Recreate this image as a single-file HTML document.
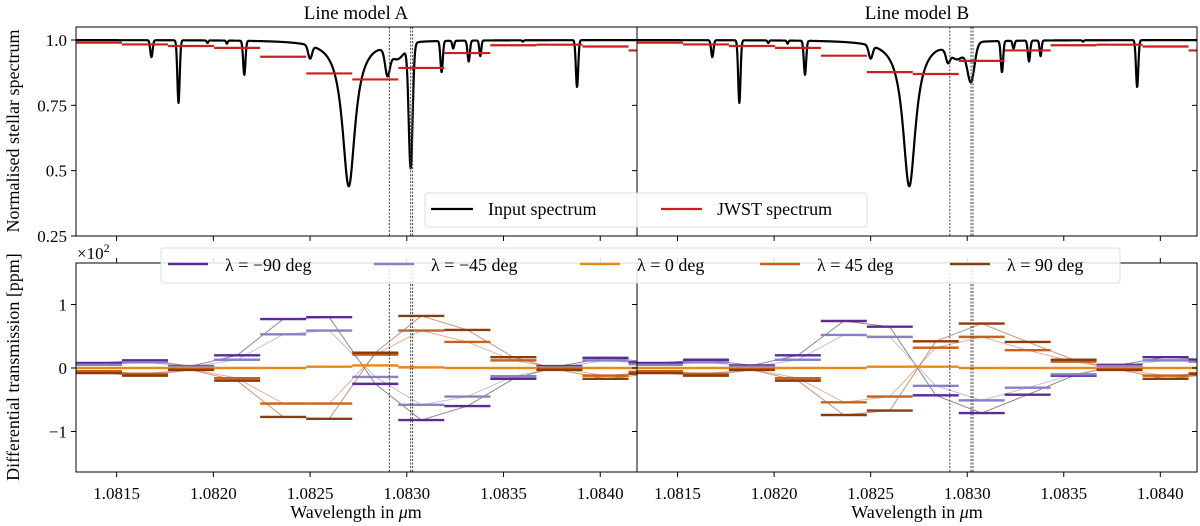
<!DOCTYPE html>
<html><head><meta charset="utf-8"><style>
html,body{margin:0;padding:0;background:#fff;width:1200px;height:526px;overflow:hidden}
svg, svg text{font-family:"Liberation Serif","DejaVu Serif",serif;fill:#000}
</style></head><body>
<svg id="chart" width="1200" height="526" viewBox="0 0 1200 526" xmlns="http://www.w3.org/2000/svg" font-family="Liberation Serif, serif">
<defs>
<clipPath id="cT0"><rect x="76" y="27" width="561" height="209"/></clipPath>
<clipPath id="cT1"><rect x="637" y="27" width="560" height="209"/></clipPath>
<clipPath id="cB0"><rect x="76" y="263" width="561" height="209"/></clipPath>
<clipPath id="cB1"><rect x="637" y="263" width="560" height="209"/></clipPath>
</defs>
<text x="356" y="19" font-size="19" text-anchor="middle">Line model A</text>
<text x="917" y="19" font-size="19" text-anchor="middle">Line model B</text>
<text transform="translate(19,131) rotate(-90)" font-size="18" text-anchor="middle">Normalised stellar spectrum</text>
<text transform="translate(19,367) rotate(-90)" font-size="18" text-anchor="middle">Differential transmission [ppm]</text>
<text x="77" y="259" font-size="17">×10<tspan font-size="12" dy="-7">2</tspan></text>
<text x="356" y="518" font-size="18" text-anchor="middle">Wavelength in <tspan font-style="italic">μ</tspan>m</text>
<text x="917" y="518" font-size="18" text-anchor="middle">Wavelength in <tspan font-style="italic">μ</tspan>m</text>
<g id="g"></g>
</svg>
<script>
const binStart = 1.08129, binWidth = 0.000238, nBins = 13;
const jwstA = [0.99,0.983,0.977,0.97,0.936,0.872,0.849,0.893,0.95,0.98,0.982,0.975,0.96];
const jwstB = [0.99,0.983,0.977,0.97,0.94,0.877,0.87,0.92,0.96,0.98,0.982,0.975,0.96];
const lineCenters = [1.08168,1.08182,1.08197,1.08207,1.08216,1.08250,1.08270,1.08290,1.08302,1.08295,1.08318,1.08324,1.08332,1.08338,1.08360,1.08388];
const lineDepthsA = [0.065,0.24,0.01,0.012,0.13,0.05,0.56,0.09,0.47,0.06,0.12,0.03,0.08,0.06,0.005,0.18];
const lineDepthsB = [0.065,0.24,0.01,0.012,0.13,0.05,0.56,0.04,0.14,0.06,0.12,0.03,0.08,0.06,0.005,0.18];
const lineWidthsA = [0.000006,0.000006,0.000004,0.000004,0.000006,0.00001,0.00004,0.000012,0.00001,0.00004,0.000006,0.000005,0.000006,0.000005,0.000004,0.000006];
const lineWidthsB = [0.000006,0.000006,0.000004,0.000004,0.000006,0.00001,0.00004,0.000010,0.000018,0.00004,0.000006,0.000005,0.000006,0.000005,0.000004,0.000006];
const lineLorentz = [0,0,0,0,0,0,1,0,0,0,0,0,0,0,0,0];
const seriesLabels = ["λ = −90 deg","λ = −45 deg","λ = 0 deg","λ = 45 deg","λ = 90 deg"];
const seriesColors = ["#5a2a96","#8a80c6","#e8891c","#c8621a","#8a3c0e"];
const diffA_m90 = [0.08,0.12,0.03,0.2,0.77,0.80,-0.25,-0.82,-0.6,-0.17,0.03,0.16,0.09];
const diffA_m45 = [0.05,0.09,0.02,0.13,0.53,0.59,-0.14,-0.58,-0.45,-0.13,0.01,0.12,0.06];
const diffA_0 = [0,0,0,0,0,0.02,0.04,0.01,0,0,0,0,0];
const diffA_45 = [-0.05,-0.09,-0.02,-0.16,-0.56,-0.56,0.21,0.59,0.41,0.12,-0.01,-0.12,-0.06];
const diffA_90 = [-0.08,-0.12,-0.03,-0.2,-0.77,-0.8,0.24,0.82,0.6,0.17,-0.03,-0.17,-0.09];
const diffB_m90 = [0.08,0.13,0.04,0.2,0.74,0.65,-0.43,-0.71,-0.42,-0.12,0.05,0.17,0.13];
const diffB_m45 = [0.05,0.09,0.02,0.13,0.52,0.49,-0.28,-0.51,-0.31,-0.1,0.03,0.12,0.1];
const diffB_0 = [0,0,0,0,0,0.02,0.02,0,0,0,0,0,0];
const diffB_45 = [-0.05,-0.09,-0.02,-0.16,-0.54,-0.45,0.32,0.49,0.28,0.1,-0.02,-0.12,-0.08];
const diffB_90 = [-0.08,-0.12,-0.03,-0.2,-0.74,-0.67,0.42,0.7,0.41,0.13,-0.03,-0.17,-0.1];
const xTicks = [1.0815,1.0820,1.0825,1.0830,1.0835,1.0840];
const xTickLabels = ["1.0815","1.0820","1.0825","1.0830","1.0835","1.0840"];
const yTopTicks = [1.0,0.75,0.5,0.25];
const yTopLabels = ["1.0","0.75","0.5","0.25"];
const yBotTicks = [1,0,-1];
const yBotLabels = ["1","0","−1"];
const markerLines = [1.08291,1.08302,1.08303];

const NS="http://www.w3.org/2000/svg", G=document.getElementById('g');
const FONT='Liberation Serif, serif';
const xMin=1.08129, xMax=1.08419;
const panels=[{x0:76,x1:637},{x0:637,x1:1197}];
function xs(v,p){return panels[p].x0+(v-xMin)/(xMax-xMin)*(panels[p].x1-panels[p].x0);}
function yT(v){return 40+(1-v)*261.3;}
function yB(v){return 368-v*63.5;}
function mk(tag,attrs,parent){const e=document.createElementNS(NS,tag);for(const k in attrs)e.setAttribute(k,attrs[k]);if(tag==='text')e.setAttribute('font-family',FONT);(parent||G).appendChild(e);return e;}
function flux(x,dep,wid){let f=1;for(let i=0;i<lineCenters.length;i++){const d=x-lineCenters[i];if(lineLorentz[i])f-=dep[i]/(1+(d/wid[i])**2);else f-=dep[i]*Math.exp(-0.5*(d/wid[i])**2);}return f;}

const jw=[jwstA,jwstB], deps=[lineDepthsA,lineDepthsB], wids=[lineWidthsA,lineWidthsB];
const diffs=[[diffA_m90,diffA_m45,diffA_0,diffA_45,diffA_90],[diffB_m90,diffB_m45,diffB_0,diffB_45,diffB_90]];
const names=["m90","m45","0","45","90"];

for(let p=0;p<2;p++){
  const gt=mk('g',{'clip-path':`url(#cT${p})`});
  
  
  let d='';
  for(let i=0;i<=1400;i++){const x=xMin+(xMax-xMin)*i/1400;d+=(i?'L':'M')+xs(x,p).toFixed(2)+','+yT(flux(x,deps[p],wids[p])).toFixed(2);}
  const path=mk('path',{d:d,fill:'none',stroke:'#000','stroke-width':2.2,'stroke-linejoin':'round'},gt);
  
  
  for(let b=0;b<nBins;b++){
    const a=binStart+b*binWidth;
    const r=mk('line',{x1:xs(a,p),x2:xs(a+binWidth,p),y1:yT(jw[p][b]),y2:yT(jw[p][b]),stroke:'#c8201e','stroke-width':2.2},gt);
    
    
  }
  const gb=mk('g',{'clip-path':`url(#cB${p})`});
  
  
  const conCol=["#555","#a9a3d6","#e8a860","#d89060","#a86a40"];
  for(let s=0;s<5;s++){
    let cd='';
    for(let b=0;b<nBins;b++){const c=binStart+(b+0.5)*binWidth;cd+=(b?'L':'M')+xs(c,p).toFixed(2)+','+yB(diffs[p][s][b]).toFixed(2);}
    const cl=mk('path',{d:cd,fill:'none',stroke:conCol[s],'stroke-width':1,'stroke-opacity':0.7},gb);
    
    
  }
  for(let s=0;s<5;s++){
    for(let b=0;b<nBins;b++){
      const a=binStart+b*binWidth;
      const r=mk('line',{x1:xs(a,p),x2:xs(a+binWidth,p),y1:yB(diffs[p][s][b]),y2:yB(diffs[p][s][b]),stroke:seriesColors[s],'stroke-width':2.4},gb);
      
      
    }
  }
  for(let m=0;m<markerLines.length;m++){
    const X=xs(markerLines[m],p);
    for(const [y1,y2] of [[27,236],[263,472]]){
      const l=mk('line',{x1:X,x2:X,y1:y1,y2:y2,stroke:'#444','stroke-width':1,'stroke-dasharray':'2,1.5'});
      
      
    }
  }
  for(const [y1,y2] of [[27,236],[263,472]]){
    const f=mk('rect',{x:panels[p].x0,y:y1,width:panels[p].x1-panels[p].x0,height:y2-y1,fill:'none',stroke:'#000','stroke-width':1});
    
    
  }
  for(let t=0;t<xTicks.length;t++){
    const X=xs(xTicks[t],p);
    for(const y of [236,472]){mk('line',{x1:X,x2:X,y1:y,y2:y+5,stroke:'#000','stroke-width':1});}
    mk('line',{x1:X,x2:X,y1:263,y2:258,stroke:'#000','stroke-width':1});
    const tx=mk('text',{x:X,y:499,'font-size':17,'text-anchor':'middle'});
    tx.textContent=xTickLabels[t];
    
    
  }
}
for(let t=0;t<yTopTicks.length;t++){
  const Y=yT(yTopTicks[t]);
  mk('line',{x1:71,x2:76,y1:Y,y2:Y,stroke:'#000'});
  mk('line',{x1:637,x2:632,y1:Y,y2:Y,stroke:'#000'});
  mk('line',{x1:1197,x2:1192,y1:Y,y2:Y,stroke:'#000'});
  const tx=mk('text',{x:67,y:Y+6,'font-size':17,'text-anchor':'end'});
  tx.textContent=yTopLabels[t];
  
  
}
for(let t=0;t<yBotTicks.length;t++){
  const Y=yB(yBotTicks[t]);
  mk('line',{x1:71,x2:76,y1:Y,y2:Y,stroke:'#000'});
  mk('line',{x1:637,x2:632,y1:Y,y2:Y,stroke:'#000'});
  mk('line',{x1:1197,x2:1192,y1:Y,y2:Y,stroke:'#000'});
  const tx=mk('text',{x:67,y:Y+6,'font-size':17,'text-anchor':'end'});
  tx.textContent=yBotLabels[t];
  
  
}
const lt=mk('g',{});


mk('rect',{x:425,y:193,width:442,height:34,rx:3,fill:'#fff','fill-opacity':0.85,stroke:'#ddd'},lt);
mk('line',{x1:431,x2:473,y1:209,y2:209,stroke:'#000','stroke-width':2.2},lt);
let t1=mk('text',{x:488,y:215,'font-size':18},lt);t1.textContent='Input spectrum';


mk('line',{x1:661,x2:702,y1:209,y2:209,stroke:'#c8201e','stroke-width':2.2},lt);
let t2=mk('text',{x:717,y:215,'font-size':18},lt);t2.textContent='JWST spectrum';


const lb=mk('g',{});


mk('rect',{x:161,y:248,width:959,height:35,rx:3,fill:'#fff','fill-opacity':0.85,stroke:'#ddd'},lb);
const lx=[168,374,580,760,950];
for(let s=0;s<5;s++){
  mk('line',{x1:lx[s],x2:lx[s]+40,y1:264,y2:264,stroke:seriesColors[s],'stroke-width':2.4},lb);
  const t=mk('text',{x:lx[s]+57,y:271,'font-size':18},lb);
  t.textContent=seriesLabels[s];
  
  
}
</script>
</body></html>
